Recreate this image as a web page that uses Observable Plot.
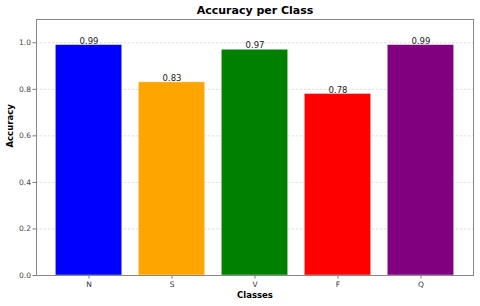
<!DOCTYPE html>
<html><head><meta charset="utf-8">
<script src="https://cdn.jsdelivr.net/npm/d3@7"></script>
<script src="https://cdn.jsdelivr.net/npm/@observablehq/plot@0.6"></script>
<style>body{margin:0;background:#fff}svg{font-family:"DejaVu Sans",sans-serif}</style>
</head><body><div id="chart"></div>
<script>
const classes = ["N", "S", "V", "F", "Q"];
const accuracy = [0.99, 0.83, 0.97, 0.78, 0.99];
const barColors = ["blue", "orange", "green", "red", "purple"];
const yTicks = [0, 0.2, 0.4, 0.6, 0.8, 1.0];

const data = classes.map((c, i) => ({cls: c, acc: accuracy[i], color: barColors[i]}));

const chart = Plot.plot({
  width: 480, height: 306,
  marginLeft: 36, marginRight: 7, marginTop: 19, marginBottom: 31,
  style: {fontFamily: "DejaVu Sans, sans-serif", background: "#fff"},
  x: {domain: classes, paddingInner: 0.2, paddingOuter: 0.233, round: false, label: null, tickSize: 3.5},
  y: {domain: [0, 1.1], ticks: yTicks, tickFormat: d3.format(".1f"), label: null, tickSize: 3.5},
  color: {type: "identity"},
  marks: [
    Plot.gridY(yTicks, {stroke: "#bbb", strokeOpacity: 0.8, strokeDasharray: "2.5,1.5", strokeWidth: 0.6}),
    Plot.barY(data, {x: "cls", y: "acc", fill: "color", stroke: "#fff", strokeOpacity: 0.5, strokeWidth: 0.8}),
    Plot.text(data, {x: "cls", y: "acc", text: d => d.acc.toFixed(2), dy: -4, fontSize: 8.5, fill: "#222"}),
    Plot.axisX({tickSize: 3.5, tickPadding: 3, fontSize: 7.5, fill: "#333", stroke: "#777"}),
    Plot.axisY(yTicks, {tickSize: 3.5, tickPadding: 2, fontSize: 7.5, fill: "#444", stroke: "#777", tickFormat: d3.format(".1f")}),
    Plot.frame({stroke: "#888", strokeWidth: 1}),
    Plot.text(["Accuracy per Class"], {frameAnchor: "top", lineAnchor: "middle", dy: -9.5, fontSize: 11, fontWeight: "bold", fill: "#000"}),
    Plot.text(["Classes"], {frameAnchor: "bottom", lineAnchor: "middle", dy: 20, fontSize: 8.5, fontWeight: "bold", fill: "#000"}),
    Plot.text(["Accuracy"], {frameAnchor: "left", dx: -26, rotate: -90, fontSize: 8.5, fontWeight: "bold", fill: "#000"})
  ]
});
document.getElementById("chart").appendChild(chart);
</script></body></html>
